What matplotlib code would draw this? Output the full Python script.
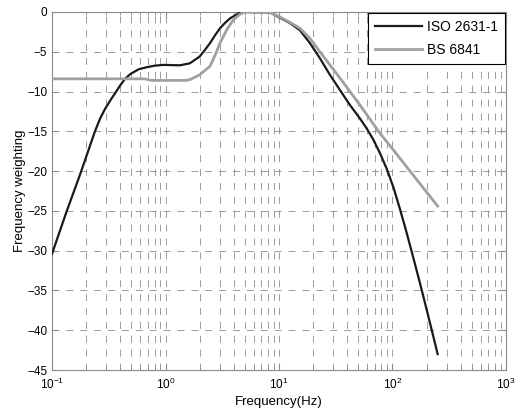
import matplotlib
matplotlib.use('Agg')
import matplotlib.pyplot as plt
from matplotlib.ticker import LogLocator, MultipleLocator

plt.rcParams['font.family'] = ['Liberation Sans', 'DejaVu Sans']
plt.rcParams['lines.scale_dashes'] = False

# ISO 2631-1 weighting curve
iso_freq = [0.1, 0.135, 0.177, 0.215, 0.239, 0.265, 0.293, 0.33, 0.36, 0.4, 0.44, 0.49,
            0.58, 0.68, 0.8, 0.95, 1.34, 1.64, 2.0, 2.23, 2.47, 2.74, 3.02, 3.33,
            3.7, 4.5, 5.2, 8.3, 10.1, 12.5, 15.3, 18.7, 22.9, 28.1, 34.4, 42.2,
            51.8, 59, 67.5, 77.6, 88.9, 101.7, 116, 133, 152, 174, 200, 250]
iso_db = [-30.4, -25.0, -20.4, -16.9, -15.0, -13.4, -12.2, -11.0, -10.2, -9.2, -8.4, -7.8,
          -7.2, -6.95, -6.75, -6.65, -6.7, -6.45, -5.6, -4.75, -3.9, -2.9, -2.05, -1.4,
          -0.8, -0.1, 0.0, -0.05, -0.7, -1.4, -2.3, -3.9, -5.8, -7.9, -9.8, -11.7,
          -13.4, -14.6, -16.0, -17.75, -19.7, -22.0, -24.7, -27.7, -30.8, -34.0, -37.4, -43.0]

# BS 6841 weighting curve
bs_freq = [0.1, 0.65, 0.75, 1.5, 1.64, 2.0, 2.47, 2.82, 3.02, 3.46, 3.95, 4.5, 5.0,
           8.3, 10.1, 12.5, 15.3, 18.7, 22.9, 28.1, 34.4, 42.2, 51.7, 63.5, 77.6,
           100, 150, 200, 250]
bs_db = [-8.4, -8.4, -8.6, -8.6, -8.5, -7.9, -6.8, -5.0, -3.9, -2.25, -1.0, -0.3, 0.0,
         -0.05, -0.6, -1.3, -2.05, -3.3, -5.0, -6.65, -8.3, -10.0, -11.7, -13.5, -15.25,
         -17.2, -20.4, -22.65, -24.4]

fig = plt.figure(figsize=(5.16, 4.12), dpi=100)
ax = fig.add_axes([0.1008, 0.1019, 0.8798, 0.869])

ax.plot(iso_freq, iso_db, color='#1a1a1a', lw=1.6, label='ISO 2631-1', zorder=3)
ax.plot(bs_freq, bs_db, color='#a0a0a0', lw=2.0, label='BS 6841', zorder=3)

ax.set_xscale('log')
ax.set_xlim(0.1, 1000)
ax.set_ylim(-45, 0)
ax.xaxis.set_major_locator(LogLocator(base=10, numticks=10))
ax.xaxis.set_minor_locator(LogLocator(base=10, subs=range(2, 10), numticks=20))
ax.yaxis.set_major_locator(MultipleLocator(5))

grid_style = dict(color='#8c8c8c', linestyle=(0, (5, 5)), linewidth=0.6)
ax.grid(True, which='major', axis='both', **grid_style)
ax.grid(True, which='minor', axis='x', **grid_style)
ax.set_axisbelow(True)

for sp in ax.spines.values():
    sp.set_color('#8c8c8c')
    sp.set_linewidth(0.8)
ax.tick_params(which='both', direction='in', top=True, right=True, colors='#8c8c8c',
               labelcolor='black', labelsize=8.5)
ax.tick_params(which='major', length=4)
ax.tick_params(which='minor', length=2)
ax.tick_params(axis='x', which='major', pad=5)

ax.set_xlabel('Frequency(Hz)', fontsize=9.5, labelpad=3)
ax.set_ylabel('Frequency weighting', fontsize=9.5, labelpad=1)

leg = ax.legend(loc='upper right', fontsize=10, fancybox=False, framealpha=1,
                edgecolor='black', handlelength=3.4, borderaxespad=0.1,
                handletextpad=0.3, borderpad=0.5, labelspacing=0.6)
leg.get_frame().set_linewidth(0.8)

fig.savefig('out.png', dpi=100)
